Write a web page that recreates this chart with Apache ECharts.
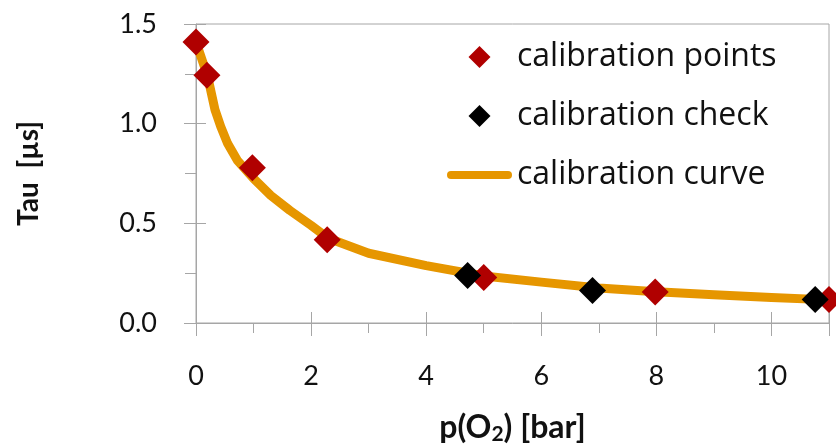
<!DOCTYPE html>
<html>
<head>
<meta charset="utf-8">
<script src="https://cdn.jsdelivr.net/npm/echarts@6/dist/echarts.min.js"></script>
<style>
html,body{margin:0;padding:0;background:#fff;}
#chart{width:836px;height:448px;}
</style>
</head>
<body>
<div id="chart"></div>
<script>
// calibration points (red)
const pointsX = [0, 0.19, 0.98, 2.28, 5.0, 7.98, 11.0];
const pointsY = [1.41, 1.243, 0.779, 0.418, 0.228, 0.155, 0.118];
// calibration check (black)
const checkX = [4.72, 6.89, 10.76];
const checkY = [0.238, 0.163, 0.118];
// calibration curve
const curveX = [0, 0.2, 0.33, 0.43, 0.55, 0.72, 1.0, 1.3, 1.63, 2.0, 2.3, 3, 4, 5, 6, 7, 8, 9, 10, 11];
const curveY = [1.41, 1.24, 1.07, 0.985, 0.9, 0.815, 0.725, 0.64, 0.565, 0.49, 0.425, 0.35, 0.288, 0.236, 0.205, 0.176, 0.157, 0.142, 0.128, 0.116];

const seriesNames = ['calibration points', 'calibration check', 'calibration curve'];
const xTitle = '{a|p(O}{s|2}{a|) [bar]}';
const yTitle = 'Tau  [µs]';

const pair = (xs, ys) => xs.map((x, i) => [x, ys[i]]);
const gray = '#A6A6A6';
const font = 'Lato, "Open Sans", sans-serif';
const legendFont = '"Open Sans", Lato, sans-serif';
const diamondPath = 'path://M10,0 L20,10 L10,20 L0,10 Z';
const barPath = 'path://M4,0 L61,0 Q65,0 65,4 Q65,8 61,8 L4,8 Q0,8 0,4 Q0,0 4,0 Z';

const chart = echarts.init(document.getElementById('chart'), null, {renderer: 'canvas'});
const baseX = {
  type: 'value', min: 0, max: 11, interval: 2, gridIndex: 0, position: 'bottom'
};
const baseY = {
  type: 'value', min: 0, max: 1.5, interval: 0.5, gridIndex: 0, position: 'left'
};
chart.setOption({
  animation: false,
  backgroundColor: '#fff',
  grid: {left: 196, right: 7, top: 24, bottom: 125, containLabel: false, outerBoundsMode: 'none',
         show: true, borderColor: gray, borderWidth: 1, backgroundColor: 'transparent'},
  legend: {
    orient: 'vertical', left: 447, top: 41, padding: 0,
    itemWidth: 65, itemHeight: 22, itemGap: 27, symbolKeepAspect: true,
    data: [
      {name: seriesNames[0], icon: diamondPath},
      {name: seriesNames[1], icon: diamondPath},
      {name: seriesNames[2], icon: barPath}
    ],
    textStyle: {fontFamily: legendFont, fontSize: 32, color: '#111', lineHeight: 32}
  },
  xAxis: [
    Object.assign({}, baseX, {
      axisLine: {show: true, onZero: false, lineStyle: {color: gray, width: 1}},
      axisTick: {show: true, inside: false, length: 13, lineStyle: {color: gray}},
      minorTick: {show: true, splitNumber: 2, length: 10, lineStyle: {color: gray}},
      splitLine: {show: false},
      axisLabel: {margin: 40, fontFamily: font, fontSize: 27, color: '#111', showMaxLabel: false},
      name: xTitle, nameLocation: 'middle', nameGap: 88, nameMoveOverlap: false,
      nameTextStyle: {
        rich: {
          a: {fontFamily: font, fontSize: 32, fontWeight: 'bold', color: '#111'},
          s: {fontFamily: font, fontSize: 21, fontWeight: 'bold', color: '#111', padding: [13, 0, 0, 0]}
        }
      }
    }),
    Object.assign({}, baseX, {
      axisLine: {show: false, onZero: false},
      axisTick: {show: true, inside: true, length: 11, lineStyle: {color: gray}},
      splitLine: {show: false}, axisLabel: {show: false}
    })
  ],
  yAxis: [
    Object.assign({}, baseY, {
      axisLine: {show: true, onZero: false, lineStyle: {color: gray, width: 1}},
      axisTick: {show: true, inside: false, length: 12, lineStyle: {color: gray}},
      minorTick: {show: true, splitNumber: 2, length: 11, lineStyle: {color: gray}},
      splitLine: {show: false},
      axisLabel: {margin: 39, fontFamily: font, fontSize: 27, color: '#111', formatter: v => v.toFixed(1)},
      name: yTitle, nameLocation: 'middle', nameGap: 153, nameMoveOverlap: false,
      nameTextStyle: {fontFamily: font, fontSize: 28, fontWeight: 'bold', color: '#111'}
    }),
    Object.assign({}, baseY, {
      axisLine: {show: false, onZero: false},
      axisTick: {show: true, inside: true, length: 10, lineStyle: {color: gray}},
      splitLine: {show: false}, axisLabel: {show: false}
    })
  ],
  series: [
    {
      name: seriesNames[2], type: 'line', data: pair(curveX, curveY),
      xAxisIndex: 0, yAxisIndex: 0, symbol: 'none', smooth: false, z: 2,
      lineStyle: {color: '#E69600', width: 9, cap: 'round', join: 'round'},
      itemStyle: {color: '#E69600'}
    },
    {
      name: seriesNames[0], type: 'scatter', data: pair(pointsX, pointsY),
      xAxisIndex: 0, yAxisIndex: 0, symbol: 'diamond', symbolSize: 27, z: 3,
      itemStyle: {color: '#B00000', opacity: 1}
    },
    {
      name: seriesNames[1], type: 'scatter', data: pair(checkX, checkY),
      xAxisIndex: 0, yAxisIndex: 0, symbol: 'diamond', symbolSize: 27, z: 4,
      itemStyle: {color: '#000000', opacity: 1}
    }
  ]
});
</script>
</body>
</html>
